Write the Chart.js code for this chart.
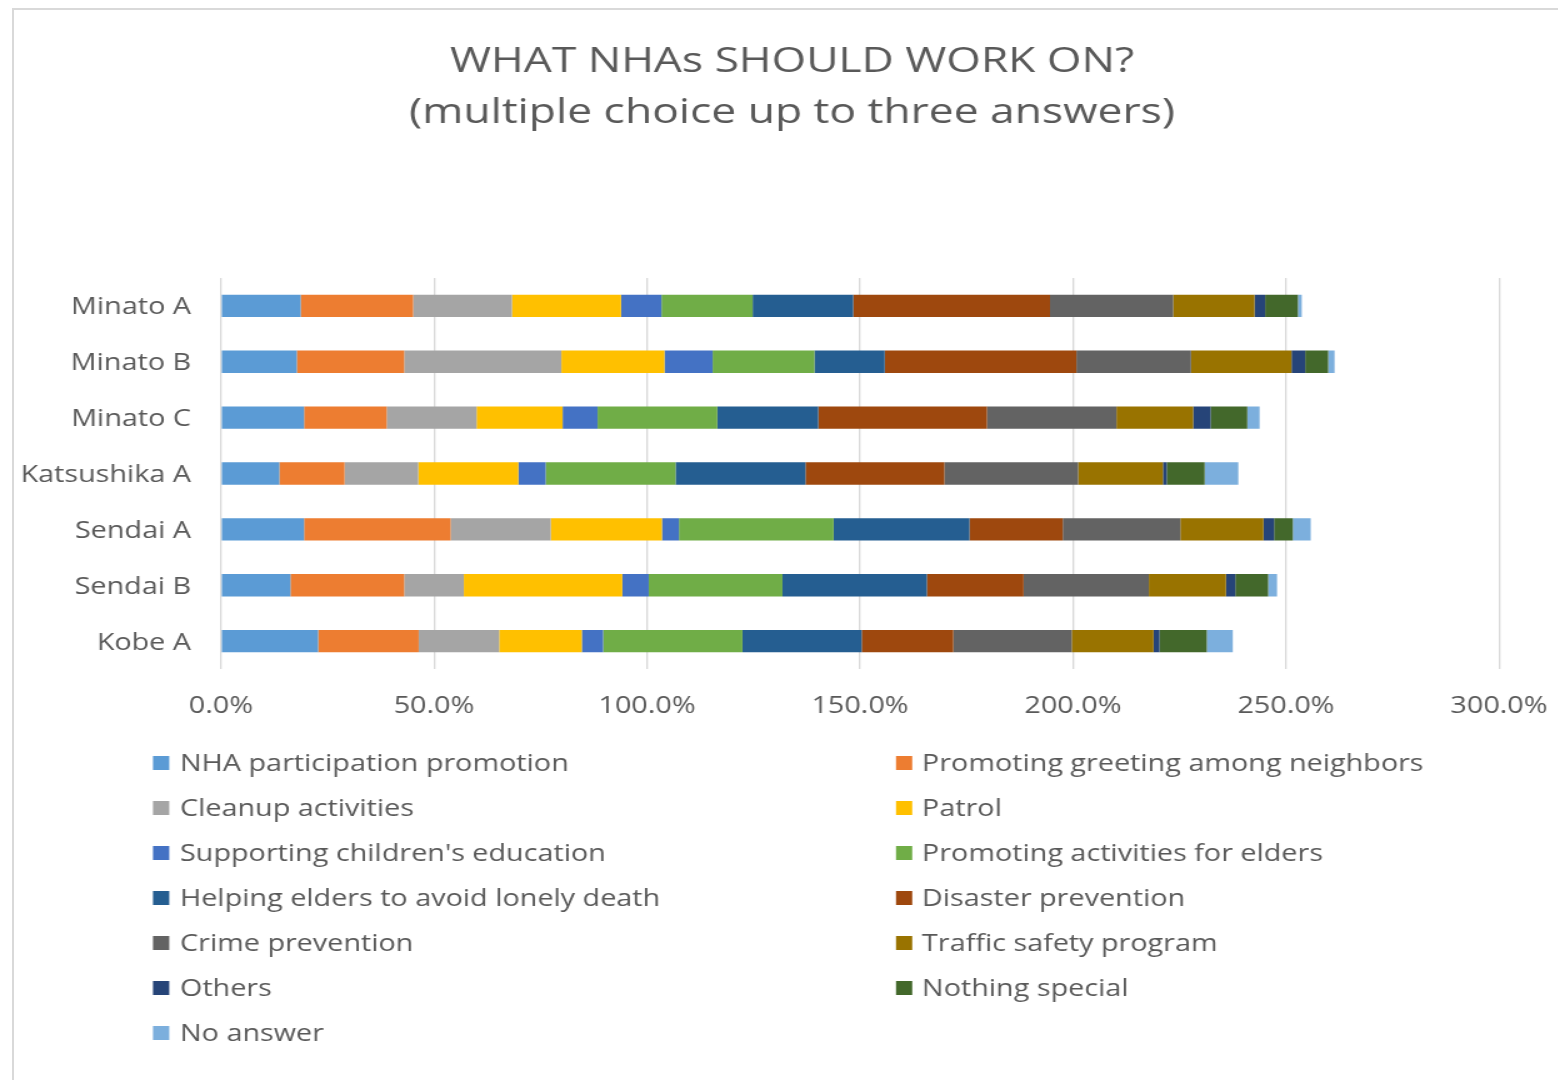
<!DOCTYPE html>
<html>
<head>
<meta charset="utf-8">
<script src="https://cdn.jsdelivr.net/npm/chart.js@4/dist/chart.umd.min.js"></script>
<style>
  html, body { margin: 0; padding: 0; background: #ffffff; overflow: hidden; }
  body { width: 1558px; height: 1080px; position: relative; }
  #frame {
    position: absolute; left: 12px; top: 8px; width: 1600px; height: 1100px;
    border-top: 2px solid #d9d9d9; border-left: 2px solid #d9d9d9; box-sizing: border-box;
  }
  /* the chart is laid out on a narrower canvas and widened, giving the broad lettering */
  #wrap {
    position: absolute; left: 0; top: 0; width: 1246.4px; height: 1080px;
    transform: scaleX(1.25); transform-origin: 0 0;
  }
</style>
</head>
<body>
<div id="frame"></div>
<div id="wrap"><canvas id="chart" width="1246" height="1080"></canvas></div>
<script>
// Survey groups (rows of the chart)
const categories = ['Minato A', 'Minato B', 'Minato C', 'Katsushika A', 'Sendai A', 'Sendai B', 'Kobe A'];

// Share of respondents choosing each activity, in percent (up to three answers each)
const nhaParticipation   = [18.7, 17.8, 19.5, 13.7, 19.5, 16.3, 22.8];
const greetingNeighbors  = [26.4, 25.2, 19.4, 15.3, 34.4, 26.7, 23.6];
const cleanup            = [23.2, 36.9, 21.1, 17.3, 23.5, 14.0, 18.9];
const patrol             = [25.6, 24.2, 20.2, 23.5, 26.1, 37.2, 19.4];
const childrenEducation  = [9.5, 11.3, 8.2, 6.4, 4.0, 6.2, 5.0];
const eldersActivities   = [21.4, 23.9, 28.1, 30.5, 36.3, 31.4, 32.7];
const lonelyDeath        = [23.6, 16.5, 23.7, 30.5, 31.9, 33.9, 28.0];
const disasterPrevention = [46.2, 45.0, 39.6, 32.6, 21.9, 22.7, 21.5];
const crimePrevention    = [28.9, 26.9, 30.4, 31.4, 27.6, 29.4, 27.8];
const trafficSafety      = [19.1, 23.6, 18.0, 19.9, 19.5, 18.1, 19.2];
const others             = [2.5, 3.2, 4.1, 0.9, 2.5, 2.2, 1.4];
const nothingSpecial     = [7.7, 5.4, 8.6, 8.9, 4.4, 7.7, 11.1];
const noAnswer           = [0.9, 1.5, 2.9, 7.9, 4.2, 2.1, 6.1];

// Axis ticks (percent)
const xTicks = [0, 50, 100, 150, 200, 250, 300];

const titleLines = ['WHAT NHAs SHOULD WORK ON?', '(multiple choice up to three answers)'];

const seriesNames = [
  'NHA participation promotion', 'Promoting greeting among neighbors',
  'Cleanup activities', 'Patrol',
  "Supporting children's education", 'Promoting activities for elders',
  'Helping elders to avoid lonely death', 'Disaster prevention',
  'Crime prevention', 'Traffic safety program',
  'Others', 'Nothing special',
  'No answer'
];
const seriesValues = [
  nhaParticipation, greetingNeighbors, cleanup, patrol, childrenEducation,
  eldersActivities, lonelyDeath, disasterPrevention, crimePrevention,
  trafficSafety, others, nothingSpecial, noAnswer
];
const seriesColors = [
  '#5B9BD5', '#ED7D31', '#A5A5A5', '#FFC000', '#4472C4', '#70AD47', '#255E91',
  '#9E480E', '#636363', '#997300', '#264478', '#43682B', '#7CAFDD'
];

const TEXT = '#595959';
const FONT = '"Open Sans", "DejaVu Sans", sans-serif';

// Two-line heading above the plot
const headingPlugin = {
  id: 'heading',
  afterDraw(chart) {
    const ctx = chart.ctx;
    ctx.save();
    ctx.fillStyle = TEXT;
    ctx.font = '35.5px ' + FONT;
    ctx.textAlign = 'center';
    ctx.textBaseline = 'alphabetic';
    ctx.fillText(titleLines[0], 633.6, 72);
    ctx.fillText(titleLines[1], 633.6, 123);
    ctx.restore();
  }
};

// Two-column legend below the axis
const legendPlugin = {
  id: 'twoColLegend',
  afterDraw(chart) {
    const ctx = chart.ctx;
    const colBox = [122.4, 716.8];
    const colText = [144, 737.6];
    ctx.save();
    ctx.font = '23px ' + FONT;
    ctx.textAlign = 'left';
    ctx.textBaseline = 'alphabetic';
    chart.data.datasets.forEach((ds, i) => {
      const col = i % 2, row = Math.floor(i / 2);
      const cy = 763 + row * 45;
      ctx.fillStyle = ds.backgroundColor;
      ctx.fillRect(colBox[col], cy - 7, 13, 14);
      ctx.fillStyle = TEXT;
      ctx.fillText(ds.label, colText[col], cy + 8.3);
    });
    ctx.restore();
  }
};

new Chart(document.getElementById('chart'), {
  type: 'bar',
  data: {
    labels: categories,
    datasets: seriesNames.map((name, i) => ({
      label: name,
      data: seriesValues[i],
      backgroundColor: seriesColors[i],
      borderWidth: 0,
      barPercentage: 0.4,
      categoryPercentage: 1.0
    }))
  },
  options: {
    indexAxis: 'y',
    responsive: false,
    animation: false,
    layout: { padding: { top: 278, left: 0, right: 46.8, bottom: 361 } },
    plugins: {
      legend: { display: false },
      title: { display: false },
      tooltip: { enabled: false }
    },
    scales: {
      x: {
        stacked: true,
        min: xTicks[0],
        max: xTicks[xTicks.length - 1],
        afterBuildTicks(scale) { scale.ticks = xTicks.map(v => ({ value: v })); },
        afterFit(scale) {
          scale.height = 50;
          scale.paddingLeft = 0;
          scale.paddingRight = 0;
        },
        grid: { color: '#d9d9d9', lineWidth: 1.35, drawTicks: false },
        border: { display: false },
        ticks: {
          padding: 24,
          color: TEXT,
          font: { family: FONT, size: 23 },
          callback: v => Number(v).toFixed(1) + '%'
        }
      },
      y: {
        stacked: true,
        afterFit(scale) { scale.width = 176.8; },
        grid: { display: false, drawTicks: false },
        border: { display: false },
        ticks: {
          padding: 24,
          labelOffset: 2,
          color: TEXT,
          font: { family: FONT, size: 23 }
        }
      }
    }
  },
  plugins: [headingPlugin, legendPlugin]
});
</script>
</body>
</html>
